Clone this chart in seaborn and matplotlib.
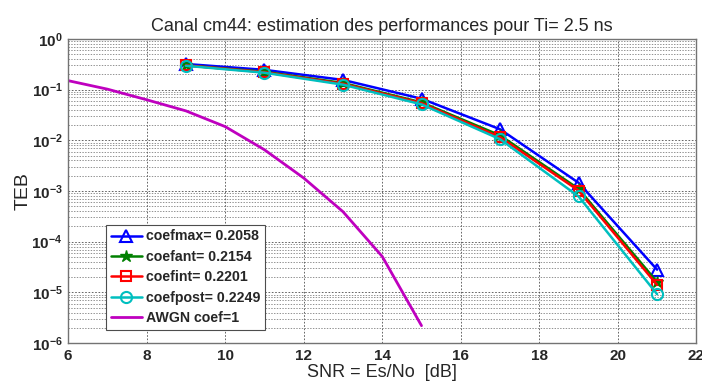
import matplotlib
matplotlib.use("Agg")
import matplotlib.pyplot as plt
import matplotlib.ticker as mticker
import seaborn as sns
import numpy as np

# data
snr = [9, 11, 13, 15, 17, 19, 21]
teb_coefmax = [0.32, 0.245, 0.155, 0.066, 0.0165, 1.45e-3, 2.8e-5]
teb_coefant = [0.30, 0.225, 0.135, 0.056, 0.0125, 1.1e-3, 1.6e-5]
teb_coefint = [0.30, 0.22, 0.13, 0.054, 0.0115, 1.02e-3, 1.4e-5]
teb_coefpost = [0.295, 0.215, 0.125, 0.051, 0.0105, 7.8e-4, 9.2e-6]

snr_awgn = [6, 7, 8, 9, 10, 11, 12, 13, 14, 15]
teb_awgn = [0.15, 0.102, 0.063, 0.038, 0.0186, 0.0065, 0.0018, 3.9e-4, 5.1e-5, 2.2e-6]

labels = ["coefmax= 0.2058", "coefant= 0.2154", "coefint= 0.2201",
          "coefpost= 0.2249", "AWGN coef=1"]

sns.set_style("white")
plt.rcParams["font.family"] = ["Liberation Sans", "DejaVu Sans"]
plt.rcParams["mathtext.fontset"] = "custom"
plt.rcParams["mathtext.rm"] = "Liberation Sans"
plt.rcParams["mathtext.bf"] = "Liberation Sans:bold"

fig = plt.figure(figsize=(7.02, 3.85), dpi=100)
ax = fig.add_axes([0.097, 0.109, 0.895, 0.79])

series = [
    (teb_coefmax, "#0000ff", dict(marker="^", markersize=8, markerfacecolor="none",
                                   markeredgewidth=1.5)),
    (teb_coefant, "#008000", dict(marker="*", markersize=9, markeredgewidth=1)),
    (teb_coefint, "#ff0000", dict(marker="s", markersize=7, markerfacecolor="none",
                                   markeredgewidth=1.5)),
    (teb_coefpost, "#00bfbf", dict(marker="o", markersize=8, markerfacecolor="none",
                                    markeredgewidth=1.5)),
]
for (vals, col, mk), lab in zip(series, labels):
    sns.lineplot(x=snr, y=vals, color=col, linewidth=1.8, label=lab, ax=ax,
                 markeredgecolor=col, **mk)
sns.lineplot(x=snr_awgn, y=teb_awgn, color="#bf00bf", linewidth=2,
             label=labels[4], ax=ax)

ax.set_yscale("log")
ax.set_xlim(6, 22)
ax.set_ylim(1e-6, 1)
ax.set_xticks(range(6, 23, 2))
ax.yaxis.set_major_locator(mticker.LogLocator(base=10, numticks=10))
ax.yaxis.set_minor_locator(mticker.LogLocator(base=10, subs=np.arange(2, 10), numticks=20))
ax.yaxis.set_major_formatter(mticker.FuncFormatter(
    lambda v, p: r"$\mathbf{10^{%d}}$" % int(round(np.log10(v)))))
ax.yaxis.set_minor_formatter(mticker.NullFormatter())

for lab in ax.get_xticklabels():
    lab.set_fontweight("bold")
ax.tick_params(axis="x", which="major", labelsize=11, direction="in", length=4,
               color="0.3", pad=4)
ax.tick_params(axis="y", which="major", labelsize=11, direction="in", length=4,
               color="0.3", pad=4)
ax.tick_params(axis="y", which="minor", direction="in", length=2, color="0.3")

ax.grid(True, which="major", axis="both", linestyle=(0, (2, 2)), color="0.3", linewidth=0.6)
ax.grid(True, which="minor", axis="y", linestyle=(0, (2, 2)), color="0.4", linewidth=0.5)

for sp in ax.spines.values():
    sp.set_color("0.45")
    sp.set_linewidth(1)

ax.set_title("Canal cm44: estimation des performances pour Ti= 2.5 ns", fontsize=13, pad=6)
ax.set_xlabel("SNR = Es/No  [dB]", fontsize=13, labelpad=1)
ax.set_ylabel("TEB", fontsize=14)
ax.yaxis.set_label_coords(-0.058, 0.5)

leg = ax.legend(loc="lower left", bbox_to_anchor=(0.06, 0.043), borderaxespad=0,
                prop={"weight": "bold", "size": 10.2}, handlelength=2.2, handletextpad=0.3,
                labelspacing=0.45, fancybox=False, framealpha=1, borderpad=0.35)
leg.get_frame().set_edgecolor("0.3")
leg.get_frame().set_linewidth(0.8)

fig.savefig("out.png", dpi=100)
